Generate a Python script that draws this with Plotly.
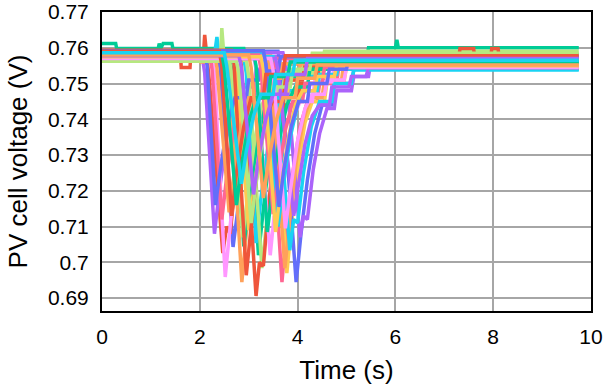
import plotly.graph_objects as go

# Each run: list of (time s, PV cell voltage V) points
run_01 = [(0,0.7585),(1.2,0.7585),(1.25,0.7590),(1.6,0.7590),(1.65,0.7585),(2.35,0.7585),(2.42,0.7540),(2.68,0.7043),(2.78,0.7150),(2.9,0.7300),(3.05,0.7420),(3.15,0.7470),(3.4,0.7470),(3.45,0.7520),(3.8,0.7520),(3.85,0.7565),(9.75,0.7565)]
run_02 = [(0,0.7592),(1.4,0.7592),(1.45,0.7588),(1.9,0.7588),(1.95,0.7592),(2.08,0.7592),(2.1,0.7636),(2.13,0.7590),(2.15,0.7560),(2.2,0.7500),(2.47,0.7026),(2.55,0.7100),(2.62,0.7080),(2.75,0.7250),(2.95,0.7400),(3.1,0.7460),(3.3,0.7460),(3.35,0.7510),(3.7,0.7510),(3.75,0.7555),(9.75,0.7555)]
run_03 = [(0,0.7612),(0.28,0.7612),(0.3,0.7598),(1.15,0.7598),(1.17,0.7612),(1.2,0.7598),(1.25,0.7612),(1.43,0.7612),(1.45,0.7598),(2.9,0.7598),(2.95,0.7560),(3.2,0.7020),(3.3,0.7150),(3.45,0.7320),(3.6,0.7430),(3.75,0.7480),(4.0,0.7480),(4.05,0.7530),(4.4,0.7530),(4.45,0.7560),(5.4,0.7560),(5.45,0.7600),(6.0,0.7600),(6.03,0.7622),(6.06,0.7600),(9.75,0.7600)]
run_04 = [(0,0.7575),(2.05,0.7575),(2.1,0.7530),(2.3,0.7080),(2.4,0.7200),(2.55,0.7350),(2.7,0.7440),(2.85,0.7490),(3.1,0.7490),(3.15,0.7540),(3.5,0.7540),(3.55,0.7575),(9.75,0.7575)]
run_05 = [(0,0.7582),(2.0,0.7582),(2.02,0.7560),(2.2,0.7560),(2.22,0.7575),(2.55,0.7575),(2.6,0.7540),(2.86,0.6945),(2.95,0.7080),(3.1,0.7260),(3.25,0.7400),(3.4,0.7460),(3.6,0.7460),(3.65,0.7510),(4.0,0.7510),(4.05,0.7550),(9.75,0.7550)]
run_06 = [(0,0.7580),(2.3,0.7580),(2.35,0.7630),(2.4,0.7570),(2.9,0.7570),(2.95,0.7530),(3.15,0.7054),(3.25,0.7180),(3.4,0.7330),(3.55,0.7430),(3.7,0.7480),(3.95,0.7480),(4.0,0.7520),(4.5,0.7520),(4.55,0.7540),(9.75,0.7540)]
run_07 = [(0,0.7588),(3.35,0.7588),(3.4,0.7550),(3.68,0.6945),(3.78,0.7100),(3.9,0.7250),(4.05,0.7380),(4.2,0.7450),(4.4,0.7450),(4.45,0.7500),(4.8,0.7500),(4.85,0.7555),(9.75,0.7555)]
run_08 = [(0,0.7565),(2.42,0.7565),(2.45,0.7655),(2.5,0.7565),(2.95,0.7565),(3.0,0.7520),(3.27,0.6984),(3.37,0.7120),(3.5,0.7290),(3.65,0.7410),(3.8,0.7470),(4.05,0.7470),(4.1,0.7530),(4.5,0.7530),(4.55,0.7590),(9.75,0.7590)]
run_09 = [(0,0.7572),(0.6,0.7572),(0.62,0.7565),(0.9,0.7565),(0.92,0.7572),(2.25,0.7572),(2.3,0.7530),(2.52,0.6959),(2.62,0.7100),(2.75,0.7280),(2.9,0.7400),(3.05,0.7460),(3.3,0.7460),(3.35,0.7510),(3.7,0.7510),(3.75,0.7560),(9.75,0.7560)]
run_10 = [(0,0.7578),(3.45,0.7578),(3.5,0.7540),(3.78,0.6970),(3.88,0.7110),(4.0,0.7260),(4.15,0.7390),(4.3,0.7450),(4.55,0.7450),(4.6,0.7505),(4.95,0.7505),(5.0,0.7548),(9.75,0.7548)]
run_11 = [(0,0.7590),(3.6,0.7590),(3.65,0.7550),(3.97,0.6945),(4.07,0.7080),(4.2,0.7230),(4.35,0.7360),(4.5,0.7440),(4.7,0.7440),(4.75,0.7500),(5.1,0.7500),(5.15,0.7540),(5.5,0.7540),(5.55,0.7580),(9.75,0.7580)]
run_12 = [(0,0.7590),(1.6,0.7590),(1.62,0.7545),(1.8,0.7545),(1.82,0.7590),(2.8,0.7590),(2.85,0.7550),(3.15,0.6906),(3.22,0.7000),(3.3,0.6990),(3.42,0.7180),(3.6,0.7360),(3.75,0.7440),(4.0,0.7440),(4.05,0.7500),(4.4,0.7500),(4.45,0.7572),(7.3,0.7572),(7.32,0.7598),(7.6,0.7598),(7.62,0.7572),(7.95,0.7572),(7.97,0.7598),(8.1,0.7598),(8.12,0.7572),(9.75,0.7572)]
run_13 = [(0,0.7580),(2.6,0.7580),(2.65,0.7540),(2.9,0.7045),(3.0,0.7160),(3.15,0.7310),(3.3,0.7420),(3.45,0.7470),(3.7,0.7470),(3.75,0.7520),(4.1,0.7520),(4.15,0.7545),(9.75,0.7545)]
run_14 = [(0,0.7586),(3.7,0.7586),(3.75,0.7555),(4.05,0.7070),(4.12,0.7130),(4.2,0.7120),(4.32,0.7260),(4.45,0.7360),(4.6,0.7430),(4.75,0.7430),(4.8,0.7480),(5.1,0.7480),(5.15,0.7520),(5.45,0.7520),(5.5,0.7562),(9.75,0.7562)]
run_15 = [(0,0.7570),(3.4,0.7570),(3.45,0.7530),(3.74,0.6984),(3.84,0.7120),(3.97,0.7280),(4.12,0.7400),(4.27,0.7460),(4.5,0.7460),(4.55,0.7510),(4.9,0.7510),(4.95,0.7568),(9.75,0.7568)]
run_16 = [(0,0.7575),(3.5,0.7575),(3.55,0.7540),(3.84,0.7034),(3.92,0.7120),(4.0,0.7110),(4.12,0.7250),(4.28,0.7380),(4.45,0.7450),(4.7,0.7450),(4.75,0.7500),(5.1,0.7500),(5.15,0.7538),(9.75,0.7538)]
run_17 = [(0,0.7588),(2.2,0.7588),(2.25,0.7540),(2.45,0.7120),(2.55,0.7240),(2.7,0.7380),(2.85,0.7460),(3.1,0.7460),(3.15,0.7520),(3.5,0.7520),(3.55,0.7570),(9.75,0.7570)]
run_18 = [(0,0.7568),(2.6,0.7568),(2.65,0.7530),(2.88,0.7070),(2.98,0.7190),(3.12,0.7340),(3.27,0.7440),(3.45,0.7490),(3.7,0.7490),(3.75,0.7530),(4.1,0.7530),(4.15,0.7565),(9.75,0.7565)]
run_19 = [(0,0.7575),(3.1,0.7575),(3.15,0.7540),(3.44,0.7020),(3.52,0.7130),(3.6,0.7120),(3.72,0.7270),(3.88,0.7390),(4.05,0.7450),(4.3,0.7450),(4.35,0.7505),(4.7,0.7505),(4.75,0.7552),(9.75,0.7552)]
run_20 = [(0,0.7583),(2.7,0.7583),(2.75,0.7545),(3.0,0.7090),(3.1,0.7200),(3.25,0.7340),(3.4,0.7440),(3.55,0.7480),(3.8,0.7480),(3.85,0.7525),(4.2,0.7525),(4.25,0.7560),(9.75,0.7560)]
run_21 = [(0,0.7590),(2.1,0.7590),(2.15,0.7550),(2.32,0.7160),(2.42,0.7260),(2.57,0.7390),(2.72,0.7460),(2.95,0.7460),(3.0,0.7510),(3.2,0.7510),(3.22,0.7535),(3.6,0.7535),(3.65,0.7575),(9.75,0.7575)]
run_22 = [(0,0.7593),(2.65,0.7593),(2.7,0.7555),(2.95,0.6964),(3.05,0.7100),(3.18,0.7260),(3.33,0.7390),(3.48,0.7450),(3.7,0.7450),(3.75,0.7510),(4.1,0.7510),(4.15,0.7550),(9.75,0.7550)]
run_23 = [(0,0.7585),(3.1,0.7585),(3.15,0.7550),(3.38,0.7085),(3.48,0.7200),(3.62,0.7340),(3.78,0.7440),(3.95,0.7490),(4.2,0.7490),(4.25,0.7540),(4.6,0.7540),(4.65,0.7580),(9.75,0.7580)]
run_24 = [(0,0.7570),(3.55,0.7570),(3.6,0.7535),(3.92,0.7130),(4.02,0.7220),(4.15,0.7330),(4.3,0.7410),(4.45,0.7440),(4.65,0.7440),(4.7,0.7490),(5.05,0.7490),(5.1,0.7520),(5.4,0.7520),(5.45,0.7545),(9.75,0.7545)]
run_25 = [(0,0.7585),(2.3,0.7585),(2.35,0.7545),(2.6,0.7140),(2.7,0.7250),(2.85,0.7380),(3.0,0.7460),(3.25,0.7460),(3.3,0.7515),(3.65,0.7515),(3.7,0.7555),(9.75,0.7555)]
run_26 = [(0,0.7588),(3.3,0.7588),(3.35,0.7550),(3.6,0.7100),(3.7,0.7210),(3.85,0.7350),(4.0,0.7440),(4.15,0.7480),(4.4,0.7480),(4.45,0.7525),(4.8,0.7525),(4.85,0.7560),(9.75,0.7560)]
run_27 = [(0,0.7580),(3.2,0.7580),(3.25,0.7540),(3.5,0.7135),(3.6,0.7240),(3.75,0.7370),(3.9,0.7450),(4.1,0.7450),(4.15,0.7500),(4.5,0.7500),(4.55,0.7545),(9.75,0.7545)]
run_28 = [(0,0.7562),(2.75,0.7562),(2.8,0.7530),(3.05,0.7110),(3.15,0.7220),(3.3,0.7360),(3.45,0.7450),(3.6,0.7490),(3.85,0.7490),(3.9,0.7540),(4.25,0.7540),(4.3,0.7585),(9.75,0.7585)]
run_29 = [(0,0.7570),(3.45,0.7570),(3.5,0.7535),(3.75,0.7095),(3.85,0.7200),(4.0,0.7340),(4.15,0.7430),(4.3,0.7470),(4.55,0.7470),(4.6,0.7510),(4.95,0.7510),(5.0,0.7545),(9.75,0.7545)]
run_30 = [(0,0.7575),(3.25,0.7575),(3.3,0.7540),(3.55,0.7085),(3.65,0.7200),(3.8,0.7340),(3.95,0.7440),(4.1,0.7480),(4.35,0.7480),(4.4,0.7520),(4.75,0.7520),(4.8,0.7550),(9.75,0.7550)]
run_31 = [(0,0.7592),(3.3,0.7592),(3.35,0.7555),(3.62,0.7155),(3.72,0.7260),(3.87,0.7380),(4.02,0.7450),(4.2,0.7450),(4.25,0.7500),(4.6,0.7500),(4.65,0.7540),(5.0,0.7540),(5.05,0.7575),(9.75,0.7575)]
run_32 = [(0,0.7590),(2.4,0.7590),(2.45,0.7550),(2.65,0.7130),(2.75,0.7250),(2.9,0.7380),(3.05,0.7460),(3.3,0.7460),(3.35,0.7525),(3.7,0.7525),(3.75,0.7578),(9.75,0.7578)]
run_33 = [(0,0.7582),(2.45,0.7582),(2.5,0.7545),(2.75,0.7160),(2.85,0.7270),(3.0,0.7390),(3.15,0.7460),(3.4,0.7460),(3.45,0.7520),(3.8,0.7520),(3.85,0.7560),(9.75,0.7560)]
run_34 = [(0,0.7578),(2.8,0.7578),(2.85,0.7545),(3.1,0.7190),(3.2,0.7290),(3.35,0.7400),(3.5,0.7470),(3.75,0.7470),(3.8,0.7525),(4.15,0.7525),(4.2,0.7570),(9.75,0.7570)]
run_35 = [(0,0.7580),(3.0,0.7580),(3.05,0.7545),(3.3,0.7180),(3.4,0.7280),(3.55,0.7390),(3.7,0.7460),(3.95,0.7460),(4.0,0.7515),(4.35,0.7515),(4.4,0.7552),(9.75,0.7552)]
run_36 = [(0,0.7586),(2.5,0.7586),(2.55,0.7550),(2.85,0.7220),(2.95,0.7310),(3.1,0.7410),(3.25,0.7470),(3.5,0.7470),(3.55,0.7525),(3.9,0.7525),(3.95,0.7565),(9.75,0.7565)]

runs = [run_01, run_02, run_03, run_04, run_05, run_06, run_07, run_08, run_09, run_10,
        run_11, run_12, run_13, run_14, run_15, run_16, run_17, run_18, run_19, run_20,
        run_21, run_22, run_23, run_24, run_25, run_26, run_27, run_28, run_29, run_30,
        run_31, run_32, run_33, run_34, run_35, run_36]

y_tick_vals = [0.69, 0.70, 0.71, 0.72, 0.73, 0.74, 0.75, 0.76, 0.77]
y_tick_text = ["0.69", "0.7", "0.71", "0.72", "0.73", "0.74", "0.75", "0.76", "0.77"]
x_tick_vals = [0, 2, 4, 6, 8, 10]

colors = ["#636efa", "#EF553B", "#00cc96", "#ab63fa", "#FFA15A",
          "#19d3f3", "#FF6692", "#B6E880", "#FF97FF", "#FECB52"]

fig = go.Figure()
for i, run in enumerate(runs):
    fig.add_trace(go.Scatter(
        x=[p[0] for p in run], y=[p[1] for p in run], mode="lines",
        line=dict(color=colors[i % len(colors)], width=3.5),
        showlegend=False, hoverinfo="skip"))

font_family = "Liberation Sans, Arial, sans-serif"
fig.update_layout(
    width=605, height=387,
    margin=dict(l=102, r=14, t=12, b=76),
    paper_bgcolor="white", plot_bgcolor="white",
    font=dict(family=font_family, color="black", size=21),
)
fig.update_xaxes(
    range=[0, 10], tickvals=x_tick_vals, ticks="", ticklabelstandoff=6,
    automargin=False, ticklabeloverflow="allow",
    showgrid=True, gridcolor="#a6a6a6", gridwidth=1.5,
    showline=True, linecolor="black", linewidth=2, mirror=True, zeroline=False,
    tickfont=dict(size=21),
    title=dict(text="Time (s)", font=dict(size=26), standoff=14),
)
fig.update_yaxes(
    range=[0.6864, 0.77], tickvals=y_tick_vals, ticktext=y_tick_text, ticks="",
    ticklabelstandoff=7, automargin=False, ticklabeloverflow="allow",
    showgrid=True, gridcolor="#a6a6a6", gridwidth=1.5,
    showline=True, linecolor="black", linewidth=2, mirror=True, zeroline=False,
    tickfont=dict(size=21),
    title=dict(text="PV cell voltage (V)", font=dict(size=26), standoff=13),
)
# remove the browser's default 8px body margin so the figure fills the window
fig.write_html("out.html", config={"displayModeBar": False},
               post_script="document.body.style.margin='0';")
